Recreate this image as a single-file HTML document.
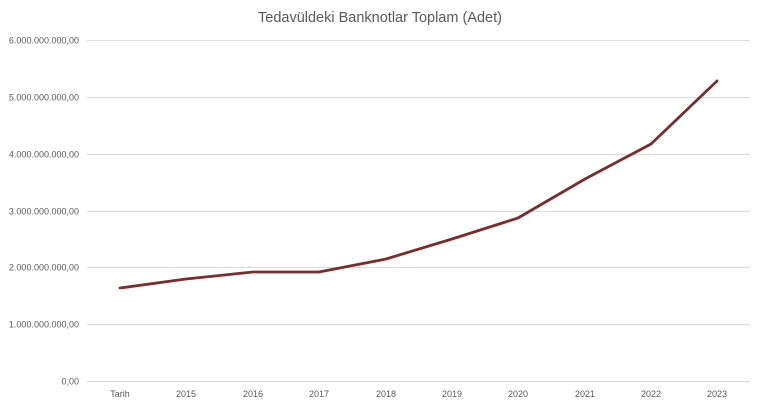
<!DOCTYPE html>
<html><head><style>
body{margin:0;background:#fff;}
svg text{font-family:"Liberation Sans",sans-serif;fill:#595959;}
</style></head><body>
<svg width="760" height="406" xmlns="http://www.w3.org/2000/svg">
<rect width="760" height="406" fill="#fff"/>
<text x="380" y="22" font-size="14.5" text-anchor="middle">Tedavüldeki Banknotlar Toplam (Adet)</text>
<g stroke="#d9d9d9" stroke-width="1">
<line x1="87" x2="750" y1="40.5" y2="40.5"/>
<line x1="87" x2="750" y1="97.5" y2="97.5"/>
<line x1="87" x2="750" y1="154.5" y2="154.5"/>
<line x1="87" x2="750" y1="211.5" y2="211.5"/>
<line x1="87" x2="750" y1="267.5" y2="267.5"/>
<line x1="87" x2="750" y1="324.5" y2="324.5"/>
<line x1="87" x2="750" y1="381.5" y2="381.5"/>
</g>
<g font-size="9" text-anchor="end">
<text x="79" y="43.5">6.000.000.000,00</text>
<text x="79" y="100.5">5.000.000.000,00</text>
<text x="79" y="157.5">4.000.000.000,00</text>
<text x="79" y="214.5">3.000.000.000,00</text>
<text x="79" y="270.5">2.000.000.000,00</text>
<text x="79" y="327.5">1.000.000.000,00</text>
<text x="79" y="384.5">0,00</text>
</g>
<g font-size="9" text-anchor="middle">
<text x="120" y="397">Tarih</text>
<text x="186" y="397">2015</text>
<text x="253" y="397">2016</text>
<text x="319" y="397">2017</text>
<text x="386" y="397">2018</text>
<text x="452" y="397">2019</text>
<text x="518" y="397">2020</text>
<text x="585" y="397">2021</text>
<text x="651" y="397">2022</text>
<text x="717" y="397">2023</text>
</g>
<polyline fill="none" stroke="#7b2c2c" stroke-width="2.8" stroke-linejoin="round" stroke-linecap="round"
points="120,288 186,279 253,272 319,272 386,259 452,239 518,218 585,179 651,144 717,81"/>
</svg>
</body></html>
